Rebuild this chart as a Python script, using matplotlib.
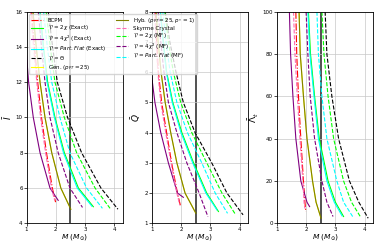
import numpy as np
import matplotlib
matplotlib.use("Agg")
import matplotlib.pyplot as plt

# model labels, colours and styles (legend order)
labels = ["BCPM",
          r"$\mathcal{V}'=2\chi$ (Exact)",
          r"$\mathcal{V}'=4\chi^2$ (Exact)",
          r"$\mathcal{V}'=Part.Flat$ (Exact)",
          r"$\mathcal{V}'=\Theta$",
          r"Gen. ($p_{PT}=25$)",
          r"Hyb. ($p_{PT}=25, p_*=1$)",
          "Skyrme Crystal",
          r"$\mathcal{V}'=2\chi$ (MF)",
          r"$\mathcal{V}'=4\chi^2$ (MF)",
          r"$\mathcal{V}'=Part.Flat$ (MF)"]
colors = ["red", "lime", "purple", "cyan", "black", "yellow", "olive",
          "hotpink", "lime", "purple", "cyan"]
styles = ["-.", "-", "-", "-", "--", "-", "-", "--", "--", "--", "--"]

# moment of inertia  I-bar vs M
I_M = [[1.17, 1.27, 1.38, 1.51, 1.68, 1.88, 1.99],
       [1.46, 1.58, 1.72, 1.97, 2.29, 2.77, 3.28],
       [1.00, 1.07, 1.23, 1.46, 1.80, 2.08],
       [1.45, 1.57, 1.70, 1.95, 2.26, 2.73, 3.23],
       [1.74, 1.89, 2.05, 2.40, 2.88, 3.54, 4.12],
       [1.22, 1.33, 1.46, 1.63, 1.86, 2.17, 2.51],
       [1.22, 1.33, 1.46, 1.63, 1.86, 2.17, 2.51],
       [1.14, 1.24, 1.35, 1.48, 1.65, 1.85, 1.96],
       [1.67, 1.81, 1.97, 2.29, 2.71, 3.34, 3.85],
       [1.40, 1.51, 1.63, 1.80, 2.08, 2.48, 2.91],
       [1.58, 1.71, 1.86, 2.14, 2.48, 3.05, 3.59]]
I_val = [[16, 14, 12, 10, 8, 6, 5.2],
         [16, 14, 12, 10, 8, 6, 4.94],
         [13.5, 12, 10, 8, 6, 5.3],
         [16, 14, 12, 10, 8, 6, 4.97],
         [16, 14, 12, 10, 8, 6, 4.8],
         [16, 14, 12, 10, 8, 6, 4.8],
         [16, 14, 12, 10, 8, 6, 4.8],
         [16, 14, 12, 10, 8, 6, 5.3],
         [16, 14, 12, 10, 8, 6, 4.85],
         [16, 14, 12, 10, 8, 6, 4.9],
         [16, 14, 12, 10, 8, 6, 4.85]]

# quadrupole moment  Q-bar vs M
Q_M = [[1.12, 1.17, 1.23, 1.34, 1.51, 1.68, 1.88, 1.99],
       [1.30, 1.40, 1.51, 1.72, 2.03, 2.43, 2.88, 3.28],
       [1.00, 1.11, 1.31, 1.57, 1.88, 2.08],
       [1.29, 1.39, 1.50, 1.70, 2.00, 2.40, 2.85, 3.23],
       [1.46, 1.62, 1.83, 2.08, 2.48, 3.05, 3.57, 4.12],
       [1.15, 1.22, 1.32, 1.46, 1.65, 1.86, 2.14, 2.51],
       [1.15, 1.22, 1.32, 1.46, 1.65, 1.86, 2.14, 2.51],
       [1.10, 1.15, 1.21, 1.31, 1.48, 1.66, 1.86, 1.96],
       [1.45, 1.57, 1.74, 1.99, 2.37, 2.88, 3.40, 3.85],
       [1.22, 1.31, 1.42, 1.57, 1.86, 2.20, 2.62, 2.92],
       [1.38, 1.49, 1.63, 1.86, 2.22, 2.71, 3.17, 3.59]]
Q_val = [[8, 7, 6, 5, 4, 3, 2, 1.55],
         [8, 7, 6, 5, 4, 3, 2, 1.39],
         [5.85, 5, 4, 3, 2, 1.86],
         [8, 7, 6, 5, 4, 3, 2, 1.44],
         [8, 7, 6, 5, 4, 3, 2, 1.28],
         [8, 7, 6, 5, 4, 3, 2, 1.33],
         [8, 7, 6, 5, 4, 3, 2, 1.33],
         [8, 7, 6, 5, 4, 3, 2, 1.6],
         [8, 7, 6, 5, 4, 3, 2, 1.31],
         [8, 7, 6, 5, 4, 3, 2, 1.22],
         [8, 7, 6, 5, 4, 3, 2, 1.33]]

# tidal deformability  Lambda-bar vs M
L_M = [[1.65, 1.68, 1.74, 1.82, 1.91, 1.96, 1.99],
       [2.08, 2.15, 2.29, 2.45, 2.75, 3.00, 3.28],
       [1.43, 1.47, 1.55, 1.65, 1.82, 2.03, 2.12],
       [2.06, 2.13, 2.27, 2.42, 2.71, 2.96, 3.23],
       [2.65, 2.71, 2.88, 3.11, 3.48, 3.80, 4.12],
       [1.76, 1.80, 1.91, 2.03, 2.22, 2.34, 2.51],
       [1.76, 1.80, 1.91, 2.03, 2.22, 2.34, 2.51],
       [1.57, 1.62, 1.70, 1.79, 1.89, 1.93, 1.96],
       [2.54, 2.61, 2.75, 2.94, 3.28, 3.55, 3.85],
       [2.00, 2.06, 2.14, 2.29, 2.54, 2.71, 2.92],
       [2.37, 2.42, 2.54, 2.71, 3.05, 3.28, 3.59]]
L_val = [[100, 80, 60, 40, 20, 10, 5.5],
         [100, 80, 60, 40, 20, 10, 3.2],
         [100, 80, 60, 40, 20, 10, 7.9],
         [100, 80, 60, 40, 20, 10, 3.5],
         [100, 80, 60, 40, 20, 10, 2.4],
         [100, 80, 60, 40, 20, 10, 2.4],
         [100, 80, 60, 40, 20, 10, 2.4],
         [100, 80, 60, 40, 20, 10, 7.0],
         [100, 80, 60, 40, 20, 10, 3.2],
         [100, 80, 60, 40, 20, 10, 3.2],
         [100, 80, 60, 40, 20, 10, 3.2]]

fig = plt.figure(figsize=(3.85, 2.43), dpi=100)
lefts = [0.069, 0.394, 0.719]
axes = [fig.add_axes([l, 0.081, 0.251, 0.871]) for l in lefts]

panels = [(I_M, I_val, r"$\bar{I}$", (4, 16), np.arange(4, 17, 2)),
          (Q_M, Q_val, r"$\bar{Q}$", (1, 8), np.arange(1, 9, 1)),
          (L_M, L_val, r"$\bar{\Lambda}_t$", (0, 100), np.arange(0, 101, 20))]

for ax, (xs, ys, ylab, ylim, yt) in zip(axes, panels):
    for k in range(len(labels)):
        ax.plot(xs[k], ys[k], color=colors[k], ls=styles[k], lw=0.8,
                label=labels[k], zorder=2 if k != 5 else 1)
    ax.axvline(2.5, color="#222222", lw=1.1, zorder=1)
    ax.set_xlim(1, 4.3)
    ax.set_ylim(*ylim)
    ax.set_yticks(yt)
    ax.set_xticks([1, 2, 3, 4])
    ax.grid(True, lw=0.5, color="#c8c8c8")
    ax.tick_params(labelsize=4, length=2, width=0.5, pad=0.8)
    ax.set_xlabel(r"$M$ ($M_{\odot}$)", fontsize=5.4, va="top")
    ax.xaxis.set_label_coords(0.5, -0.041)
    ax.set_ylabel(ylab, fontsize=6.5, labelpad=1)
    for s in ax.spines.values():
        s.set_linewidth(0.6)

# keep the legend above the middle panel
axes[0].set_zorder(5)
axes[0].legend(loc="upper left", ncol=2, fontsize=4, handlelength=2.2,
               labelspacing=0.12, columnspacing=1.8, borderaxespad=0.4,
               framealpha=0.8)

fig.savefig("out.png", dpi=100)
